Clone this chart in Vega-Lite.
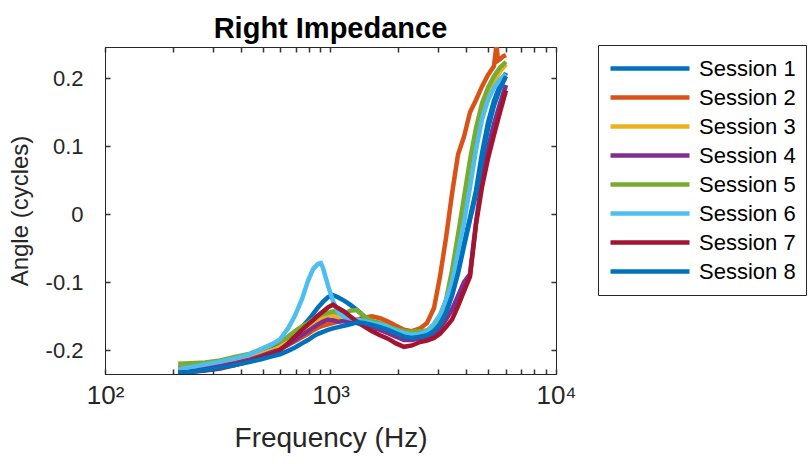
{
"$schema": "https://vega.github.io/schema/vega-lite/v6.json",
"width": 451, "height": 327,
"autosize": {"type": "none"},
"padding": {"left": 105, "top": 47, "right": 254, "bottom": 90},
"background": "white",
"config": {"font": "Liberation Sans", "view": {"stroke": "#262626", "strokeWidth": 1}},
"title": {"text": "Right Impedance", "fontSize": 29, "fontWeight": "bold", "font": "Liberation Sans", "color": "#000000", "anchor": "middle", "frame": "group", "offset": 0},
"data": {"values": [
{"session":"Session 1","freq":211,"angle":-0.231},{"session":"Session 1","freq":238,"angle":-0.229},{"session":"Session 1","freq":278,"angle":-0.226},{"session":"Session 1","freq":324,"angle":-0.222},{"session":"Session 1","freq":377,"angle":-0.216},{"session":"Session 1","freq":440,"angle":-0.211},{"session":"Session 1","freq":497,"angle":-0.205},{"session":"Session 1","freq":550,"angle":-0.199},{"session":"Session 1","freq":597,"angle":-0.193},{"session":"Session 1","freq":648,"angle":-0.186},{"session":"Session 1","freq":696,"angle":-0.177},{"session":"Session 1","freq":747,"angle":-0.166},{"session":"Session 1","freq":795,"angle":-0.156},{"session":"Session 1","freq":836,"angle":-0.147},{"session":"Session 1","freq":880,"angle":-0.137},{"session":"Session 1","freq":926,"angle":-0.129},{"session":"Session 1","freq":975,"angle":-0.122},{"session":"Session 1","freq":1026,"angle":-0.119},{"session":"Session 1","freq":1080,"angle":-0.122},{"session":"Session 1","freq":1148,"angle":-0.127},{"session":"Session 1","freq":1221,"angle":-0.133},{"session":"Session 1","freq":1311,"angle":-0.141},{"session":"Session 1","freq":1408,"angle":-0.150},{"session":"Session 1","freq":1528,"angle":-0.158},{"session":"Session 1","freq":1658,"angle":-0.163},{"session":"Session 1","freq":1799,"angle":-0.167},{"session":"Session 1","freq":1952,"angle":-0.172},{"session":"Session 1","freq":2118,"angle":-0.177},{"session":"Session 1","freq":2298,"angle":-0.179},{"session":"Session 1","freq":2494,"angle":-0.178},{"session":"Session 1","freq":2679,"angle":-0.175},{"session":"Session 1","freq":2877,"angle":-0.168},{"session":"Session 1","freq":3058,"angle":-0.158},{"session":"Session 1","freq":3252,"angle":-0.141},{"session":"Session 1","freq":3458,"angle":-0.117},{"session":"Session 1","freq":3677,"angle":-0.083},{"session":"Session 1","freq":3909,"angle":-0.042},{"session":"Session 1","freq":4156,"angle":-0.005},{"session":"Session 1","freq":4419,"angle":0.035},{"session":"Session 1","freq":4698,"angle":0.090},{"session":"Session 1","freq":4995,"angle":0.135},{"session":"Session 1","freq":5311,"angle":0.167},{"session":"Session 1","freq":5646,"angle":0.190},{"session":"Session 1","freq":6003,"angle":0.208},
{"session":"Session 2","freq":211,"angle":-0.226},{"session":"Session 2","freq":238,"angle":-0.225},{"session":"Session 2","freq":278,"angle":-0.222},{"session":"Session 2","freq":324,"angle":-0.219},{"session":"Session 2","freq":377,"angle":-0.215},{"session":"Session 2","freq":440,"angle":-0.211},{"session":"Session 2","freq":497,"angle":-0.206},{"session":"Session 2","freq":550,"angle":-0.202},{"session":"Session 2","freq":597,"angle":-0.197},{"session":"Session 2","freq":648,"angle":-0.192},{"session":"Session 2","freq":696,"angle":-0.187},{"session":"Session 2","freq":747,"angle":-0.181},{"session":"Session 2","freq":795,"angle":-0.176},{"session":"Session 2","freq":836,"angle":-0.171},{"session":"Session 2","freq":880,"angle":-0.167},{"session":"Session 2","freq":926,"angle":-0.164},{"session":"Session 2","freq":975,"angle":-0.162},{"session":"Session 2","freq":1026,"angle":-0.160},{"session":"Session 2","freq":1080,"angle":-0.158},{"session":"Session 2","freq":1148,"angle":-0.156},{"session":"Session 2","freq":1221,"angle":-0.157},{"session":"Session 2","freq":1311,"angle":-0.155},{"session":"Session 2","freq":1408,"angle":-0.152},{"session":"Session 2","freq":1528,"angle":-0.150},{"session":"Session 2","freq":1658,"angle":-0.153},{"session":"Session 2","freq":1799,"angle":-0.158},{"session":"Session 2","freq":1952,"angle":-0.164},{"session":"Session 2","freq":2118,"angle":-0.170},{"session":"Session 2","freq":2298,"angle":-0.172},{"session":"Session 2","freq":2494,"angle":-0.168},{"session":"Session 2","freq":2679,"angle":-0.160},{"session":"Session 2","freq":2877,"angle":-0.138},{"session":"Session 2","freq":3058,"angle":-0.092},{"session":"Session 2","freq":3252,"angle":-0.035},{"session":"Session 2","freq":3458,"angle":0.030},{"session":"Session 2","freq":3677,"angle":0.088},{"session":"Session 2","freq":3909,"angle":0.114},{"session":"Session 2","freq":4156,"angle":0.150},{"session":"Session 2","freq":4419,"angle":0.168},{"session":"Session 2","freq":4698,"angle":0.188},{"session":"Session 2","freq":4995,"angle":0.205},{"session":"Session 2","freq":5311,"angle":0.218},{"session":"Session 2","freq":5446,"angle":0.250},{"session":"Session 2","freq":5531,"angle":0.226},{"session":"Session 2","freq":5646,"angle":0.228},{"session":"Session 2","freq":5821,"angle":0.232},{"session":"Session 2","freq":6003,"angle":0.234},
{"session":"Session 3","freq":211,"angle":-0.229},{"session":"Session 3","freq":238,"angle":-0.227},{"session":"Session 3","freq":278,"angle":-0.224},{"session":"Session 3","freq":324,"angle":-0.220},{"session":"Session 3","freq":377,"angle":-0.216},{"session":"Session 3","freq":440,"angle":-0.211},{"session":"Session 3","freq":497,"angle":-0.205},{"session":"Session 3","freq":550,"angle":-0.200},{"session":"Session 3","freq":597,"angle":-0.195},{"session":"Session 3","freq":648,"angle":-0.188},{"session":"Session 3","freq":696,"angle":-0.181},{"session":"Session 3","freq":747,"angle":-0.173},{"session":"Session 3","freq":795,"angle":-0.166},{"session":"Session 3","freq":836,"angle":-0.160},{"session":"Session 3","freq":880,"angle":-0.155},{"session":"Session 3","freq":926,"angle":-0.151},{"session":"Session 3","freq":975,"angle":-0.148},{"session":"Session 3","freq":1026,"angle":-0.149},{"session":"Session 3","freq":1080,"angle":-0.152},{"session":"Session 3","freq":1148,"angle":-0.155},{"session":"Session 3","freq":1221,"angle":-0.155},{"session":"Session 3","freq":1311,"angle":-0.157},{"session":"Session 3","freq":1408,"angle":-0.160},{"session":"Session 3","freq":1528,"angle":-0.163},{"session":"Session 3","freq":1658,"angle":-0.165},{"session":"Session 3","freq":1799,"angle":-0.168},{"session":"Session 3","freq":1952,"angle":-0.172},{"session":"Session 3","freq":2118,"angle":-0.175},{"session":"Session 3","freq":2298,"angle":-0.176},{"session":"Session 3","freq":2494,"angle":-0.174},{"session":"Session 3","freq":2679,"angle":-0.171},{"session":"Session 3","freq":2877,"angle":-0.163},{"session":"Session 3","freq":3058,"angle":-0.150},{"session":"Session 3","freq":3252,"angle":-0.128},{"session":"Session 3","freq":3458,"angle":-0.098},{"session":"Session 3","freq":3677,"angle":-0.050},{"session":"Session 3","freq":3909,"angle":0.000},{"session":"Session 3","freq":4156,"angle":0.050},{"session":"Session 3","freq":4419,"angle":0.103},{"session":"Session 3","freq":4698,"angle":0.142},{"session":"Session 3","freq":4995,"angle":0.172},{"session":"Session 3","freq":5311,"angle":0.194},{"session":"Session 3","freq":5646,"angle":0.210},{"session":"Session 3","freq":6003,"angle":0.221},
{"session":"Session 4","freq":211,"angle":-0.230},{"session":"Session 4","freq":238,"angle":-0.229},{"session":"Session 4","freq":278,"angle":-0.226},{"session":"Session 4","freq":324,"angle":-0.223},{"session":"Session 4","freq":377,"angle":-0.219},{"session":"Session 4","freq":440,"angle":-0.214},{"session":"Session 4","freq":497,"angle":-0.208},{"session":"Session 4","freq":550,"angle":-0.203},{"session":"Session 4","freq":597,"angle":-0.199},{"session":"Session 4","freq":648,"angle":-0.192},{"session":"Session 4","freq":696,"angle":-0.185},{"session":"Session 4","freq":747,"angle":-0.178},{"session":"Session 4","freq":795,"angle":-0.172},{"session":"Session 4","freq":836,"angle":-0.167},{"session":"Session 4","freq":880,"angle":-0.162},{"session":"Session 4","freq":926,"angle":-0.158},{"session":"Session 4","freq":975,"angle":-0.155},{"session":"Session 4","freq":1026,"angle":-0.156},{"session":"Session 4","freq":1080,"angle":-0.158},{"session":"Session 4","freq":1148,"angle":-0.157},{"session":"Session 4","freq":1221,"angle":-0.158},{"session":"Session 4","freq":1311,"angle":-0.160},{"session":"Session 4","freq":1408,"angle":-0.163},{"session":"Session 4","freq":1528,"angle":-0.167},{"session":"Session 4","freq":1658,"angle":-0.170},{"session":"Session 4","freq":1799,"angle":-0.175},{"session":"Session 4","freq":1952,"angle":-0.180},{"session":"Session 4","freq":2118,"angle":-0.185},{"session":"Session 4","freq":2298,"angle":-0.185},{"session":"Session 4","freq":2494,"angle":-0.182},{"session":"Session 4","freq":2679,"angle":-0.180},{"session":"Session 4","freq":2877,"angle":-0.176},{"session":"Session 4","freq":3058,"angle":-0.168},{"session":"Session 4","freq":3252,"angle":-0.155},{"session":"Session 4","freq":3458,"angle":-0.140},{"session":"Session 4","freq":3677,"angle":-0.120},{"session":"Session 4","freq":3909,"angle":-0.100},{"session":"Session 4","freq":4156,"angle":-0.088},{"session":"Session 4","freq":4419,"angle":-0.012},{"session":"Session 4","freq":4698,"angle":0.052},{"session":"Session 4","freq":4995,"angle":0.098},{"session":"Session 4","freq":5311,"angle":0.133},{"session":"Session 4","freq":5646,"angle":0.163},{"session":"Session 4","freq":6003,"angle":0.190},
{"session":"Session 5","freq":211,"angle":-0.220},{"session":"Session 5","freq":238,"angle":-0.219},{"session":"Session 5","freq":278,"angle":-0.218},{"session":"Session 5","freq":324,"angle":-0.215},{"session":"Session 5","freq":377,"angle":-0.210},{"session":"Session 5","freq":440,"angle":-0.205},{"session":"Session 5","freq":497,"angle":-0.198},{"session":"Session 5","freq":550,"angle":-0.192},{"session":"Session 5","freq":597,"angle":-0.187},{"session":"Session 5","freq":648,"angle":-0.180},{"session":"Session 5","freq":696,"angle":-0.172},{"session":"Session 5","freq":747,"angle":-0.165},{"session":"Session 5","freq":795,"angle":-0.160},{"session":"Session 5","freq":836,"angle":-0.155},{"session":"Session 5","freq":880,"angle":-0.150},{"session":"Session 5","freq":926,"angle":-0.147},{"session":"Session 5","freq":975,"angle":-0.145},{"session":"Session 5","freq":1026,"angle":-0.143},{"session":"Session 5","freq":1080,"angle":-0.145},{"session":"Session 5","freq":1148,"angle":-0.147},{"session":"Session 5","freq":1221,"angle":-0.142},{"session":"Session 5","freq":1311,"angle":-0.141},{"session":"Session 5","freq":1408,"angle":-0.150},{"session":"Session 5","freq":1528,"angle":-0.157},{"session":"Session 5","freq":1658,"angle":-0.160},{"session":"Session 5","freq":1799,"angle":-0.165},{"session":"Session 5","freq":1952,"angle":-0.169},{"session":"Session 5","freq":2118,"angle":-0.172},{"session":"Session 5","freq":2298,"angle":-0.173},{"session":"Session 5","freq":2494,"angle":-0.172},{"session":"Session 5","freq":2679,"angle":-0.171},{"session":"Session 5","freq":2877,"angle":-0.166},{"session":"Session 5","freq":3058,"angle":-0.152},{"session":"Session 5","freq":3252,"angle":-0.126},{"session":"Session 5","freq":3458,"angle":-0.083},{"session":"Session 5","freq":3677,"angle":-0.030},{"session":"Session 5","freq":3909,"angle":0.025},{"session":"Session 5","freq":4156,"angle":0.080},{"session":"Session 5","freq":4419,"angle":0.127},{"session":"Session 5","freq":4698,"angle":0.163},{"session":"Session 5","freq":4995,"angle":0.186},{"session":"Session 5","freq":5311,"angle":0.203},{"session":"Session 5","freq":5646,"angle":0.216},{"session":"Session 5","freq":6003,"angle":0.224},
{"session":"Session 6","freq":211,"angle":-0.228},{"session":"Session 6","freq":238,"angle":-0.225},{"session":"Session 6","freq":278,"angle":-0.221},{"session":"Session 6","freq":324,"angle":-0.217},{"session":"Session 6","freq":377,"angle":-0.212},{"session":"Session 6","freq":440,"angle":-0.206},{"session":"Session 6","freq":497,"angle":-0.198},{"session":"Session 6","freq":550,"angle":-0.191},{"session":"Session 6","freq":597,"angle":-0.184},{"session":"Session 6","freq":648,"angle":-0.168},{"session":"Session 6","freq":696,"angle":-0.149},{"session":"Session 6","freq":747,"angle":-0.125},{"session":"Session 6","freq":795,"angle":-0.098},{"session":"Session 6","freq":836,"angle":-0.081},{"session":"Session 6","freq":880,"angle":-0.073},{"session":"Session 6","freq":907,"angle":-0.072},{"session":"Session 6","freq":926,"angle":-0.079},{"session":"Session 6","freq":975,"angle":-0.105},{"session":"Session 6","freq":1026,"angle":-0.128},{"session":"Session 6","freq":1080,"angle":-0.144},{"session":"Session 6","freq":1148,"angle":-0.151},{"session":"Session 6","freq":1221,"angle":-0.153},{"session":"Session 6","freq":1311,"angle":-0.155},{"session":"Session 6","freq":1408,"angle":-0.157},{"session":"Session 6","freq":1528,"angle":-0.160},{"session":"Session 6","freq":1658,"angle":-0.162},{"session":"Session 6","freq":1799,"angle":-0.166},{"session":"Session 6","freq":1952,"angle":-0.171},{"session":"Session 6","freq":2118,"angle":-0.175},{"session":"Session 6","freq":2298,"angle":-0.177},{"session":"Session 6","freq":2494,"angle":-0.176},{"session":"Session 6","freq":2679,"angle":-0.172},{"session":"Session 6","freq":2877,"angle":-0.161},{"session":"Session 6","freq":3058,"angle":-0.148},{"session":"Session 6","freq":3252,"angle":-0.127},{"session":"Session 6","freq":3458,"angle":-0.100},{"session":"Session 6","freq":3677,"angle":-0.057},{"session":"Session 6","freq":3909,"angle":-0.012},{"session":"Session 6","freq":4156,"angle":0.040},{"session":"Session 6","freq":4419,"angle":0.095},{"session":"Session 6","freq":4698,"angle":0.140},{"session":"Session 6","freq":4995,"angle":0.168},{"session":"Session 6","freq":5311,"angle":0.186},{"session":"Session 6","freq":5646,"angle":0.198},{"session":"Session 6","freq":6003,"angle":0.206},
{"session":"Session 7","freq":211,"angle":-0.233},{"session":"Session 7","freq":238,"angle":-0.232},{"session":"Session 7","freq":278,"angle":-0.230},{"session":"Session 7","freq":324,"angle":-0.227},{"session":"Session 7","freq":377,"angle":-0.222},{"session":"Session 7","freq":440,"angle":-0.216},{"session":"Session 7","freq":497,"angle":-0.210},{"session":"Session 7","freq":550,"angle":-0.205},{"session":"Session 7","freq":597,"angle":-0.200},{"session":"Session 7","freq":648,"angle":-0.190},{"session":"Session 7","freq":696,"angle":-0.180},{"session":"Session 7","freq":747,"angle":-0.170},{"session":"Session 7","freq":795,"angle":-0.162},{"session":"Session 7","freq":836,"angle":-0.156},{"session":"Session 7","freq":880,"angle":-0.149},{"session":"Session 7","freq":926,"angle":-0.143},{"session":"Session 7","freq":975,"angle":-0.137},{"session":"Session 7","freq":1026,"angle":-0.133},{"session":"Session 7","freq":1080,"angle":-0.138},{"session":"Session 7","freq":1148,"angle":-0.143},{"session":"Session 7","freq":1221,"angle":-0.150},{"session":"Session 7","freq":1311,"angle":-0.158},{"session":"Session 7","freq":1408,"angle":-0.165},{"session":"Session 7","freq":1528,"angle":-0.172},{"session":"Session 7","freq":1658,"angle":-0.178},{"session":"Session 7","freq":1799,"angle":-0.183},{"session":"Session 7","freq":1952,"angle":-0.190},{"session":"Session 7","freq":2118,"angle":-0.195},{"session":"Session 7","freq":2298,"angle":-0.193},{"session":"Session 7","freq":2494,"angle":-0.188},{"session":"Session 7","freq":2679,"angle":-0.186},{"session":"Session 7","freq":2877,"angle":-0.182},{"session":"Session 7","freq":3058,"angle":-0.176},{"session":"Session 7","freq":3252,"angle":-0.166},{"session":"Session 7","freq":3458,"angle":-0.155},{"session":"Session 7","freq":3677,"angle":-0.135},{"session":"Session 7","freq":3909,"angle":-0.113},{"session":"Session 7","freq":4156,"angle":-0.092},{"session":"Session 7","freq":4419,"angle":-0.015},{"session":"Session 7","freq":4698,"angle":0.040},{"session":"Session 7","freq":4995,"angle":0.082},{"session":"Session 7","freq":5311,"angle":0.117},{"session":"Session 7","freq":5646,"angle":0.150},{"session":"Session 7","freq":6003,"angle":0.182},
{"session":"Session 8","freq":211,"angle":-0.234},{"session":"Session 8","freq":238,"angle":-0.232},{"session":"Session 8","freq":278,"angle":-0.229},{"session":"Session 8","freq":324,"angle":-0.226},{"session":"Session 8","freq":377,"angle":-0.222},{"session":"Session 8","freq":440,"angle":-0.217},{"session":"Session 8","freq":497,"angle":-0.213},{"session":"Session 8","freq":550,"angle":-0.209},{"session":"Session 8","freq":597,"angle":-0.206},{"session":"Session 8","freq":648,"angle":-0.201},{"session":"Session 8","freq":696,"angle":-0.196},{"session":"Session 8","freq":747,"angle":-0.190},{"session":"Session 8","freq":795,"angle":-0.185},{"session":"Session 8","freq":836,"angle":-0.180},{"session":"Session 8","freq":880,"angle":-0.176},{"session":"Session 8","freq":926,"angle":-0.173},{"session":"Session 8","freq":975,"angle":-0.170},{"session":"Session 8","freq":1026,"angle":-0.168},{"session":"Session 8","freq":1080,"angle":-0.166},{"session":"Session 8","freq":1148,"angle":-0.164},{"session":"Session 8","freq":1221,"angle":-0.162},{"session":"Session 8","freq":1311,"angle":-0.159},{"session":"Session 8","freq":1408,"angle":-0.160},{"session":"Session 8","freq":1528,"angle":-0.163},{"session":"Session 8","freq":1658,"angle":-0.166},{"session":"Session 8","freq":1799,"angle":-0.170},{"session":"Session 8","freq":1952,"angle":-0.175},{"session":"Session 8","freq":2118,"angle":-0.180},{"session":"Session 8","freq":2298,"angle":-0.182},{"session":"Session 8","freq":2494,"angle":-0.180},{"session":"Session 8","freq":2679,"angle":-0.178},{"session":"Session 8","freq":2877,"angle":-0.172},{"session":"Session 8","freq":3058,"angle":-0.162},{"session":"Session 8","freq":3252,"angle":-0.145},{"session":"Session 8","freq":3458,"angle":-0.120},{"session":"Session 8","freq":3677,"angle":-0.087},{"session":"Session 8","freq":3909,"angle":-0.047},{"session":"Session 8","freq":4156,"angle":-0.008},{"session":"Session 8","freq":4419,"angle":0.030},{"session":"Session 8","freq":4698,"angle":0.082},{"session":"Session 8","freq":4995,"angle":0.126},{"session":"Session 8","freq":5311,"angle":0.160},{"session":"Session 8","freq":5646,"angle":0.185},{"session":"Session 8","freq":6003,"angle":0.203}
]},
"layer": [
{"mark": {"type": "line", "strokeWidth": 4.5, "clip": true},
 "encoding": {
  "x": {"field": "freq", "type": "quantitative",
   "scale": {"type": "log", "domain": [100, 10000], "nice": false},
   "axis": {"orient": "bottom", "title": "Frequency (Hz)", "grid": false,
    "values": [100,200,300,400,500,600,700,800,900,1000,2000,3000,4000,5000,6000,7000,8000,9000,10000],
    "labelExpr": "datum.value == 100 ? '10²' : datum.value == 1000 ? '10³' : datum.value == 10000 ? '10⁴' : ''",
    "labelFlush": false, "labelOverlap": false, "labelFont": "Liberation Sans", "labelFontSize": 26, "labelColor": "#262626", "labelPadding": 13,
    "tickSize": -5, "tickWidth": 1.5, "tickColor": "#333333", "domainColor": "#262626",
    "titleFont": "Liberation Sans", "titleFontSize": 28, "titleFontWeight": "normal", "titleColor": "#262626", "titlePadding": 16}},
  "y": {"field": "angle", "type": "quantitative",
   "scale": {"domain": [-0.235, 0.246], "nice": false, "zero": false},
   "axis": {"orient": "left", "title": "Angle (cycles)", "grid": false,
    "values": [-0.2, -0.1, 0, 0.1, 0.2],
    "labelExpr": "datum.value < 0 ? '-' + format(-datum.value, '.1~f') : format(datum.value, '.1~f')",
    "labelFont": "Liberation Sans", "labelFontSize": 22, "labelColor": "#262626", "labelPadding": 27,
    "tickSize": -5, "tickWidth": 1.5, "tickColor": "#333333", "domainColor": "#262626",
    "titleFont": "Liberation Sans", "titleFontSize": 24, "titleFontWeight": "normal", "titleColor": "#262626", "titlePadding": 13}},
  "color": {"field": "session", "type": "nominal",
   "scale": {"domain": ["Session 1","Session 2","Session 3","Session 4","Session 5","Session 6","Session 7","Session 8"],
    "range": ["#0072BD","#D95319","#EDB120","#7E2F8E","#77AC30","#4DBEEE","#A2142F","#0072BD"]},
   "legend": {"title": null, "orient": "none", "legendX": 493, "legendY": -2, "direction": "vertical",
    "symbolType": "stroke", "symbolStrokeWidth": 4.5, "symbolSize": 6241, "clipHeight": 27, "rowPadding": 2,
    "labelFont": "Liberation Sans", "labelFontSize": 22, "labelColor": "#000000", "labelOffset": 7,
    "padding": 10, "strokeColor": "#262626", "fillColor": "white"}}
 }},
{"mark": {"type": "line", "opacity": 0},
 "encoding": {
  "x": {"field": "freq", "type": "quantitative",
   "axis": {"orient": "top", "title": null, "labels": false, "grid": false, "domain": false,
    "values": [100,200,300,400,500,600,700,800,900,1000,2000,3000,4000,5000,6000,7000,8000,9000,10000],
    "tickSize": -5, "tickWidth": 1.5, "tickColor": "#333333"}},
  "y": {"field": "angle", "type": "quantitative",
   "axis": {"orient": "right", "title": null, "labels": false, "grid": false, "domain": false,
    "values": [-0.2, -0.1, 0, 0.1, 0.2], "tickSize": -5, "tickWidth": 1.5, "tickColor": "#333333"}},
  "detail": {"field": "session", "type": "nominal"}
 }}
],
"resolve": {"axis": {"x": "independent", "y": "independent"}}
}
